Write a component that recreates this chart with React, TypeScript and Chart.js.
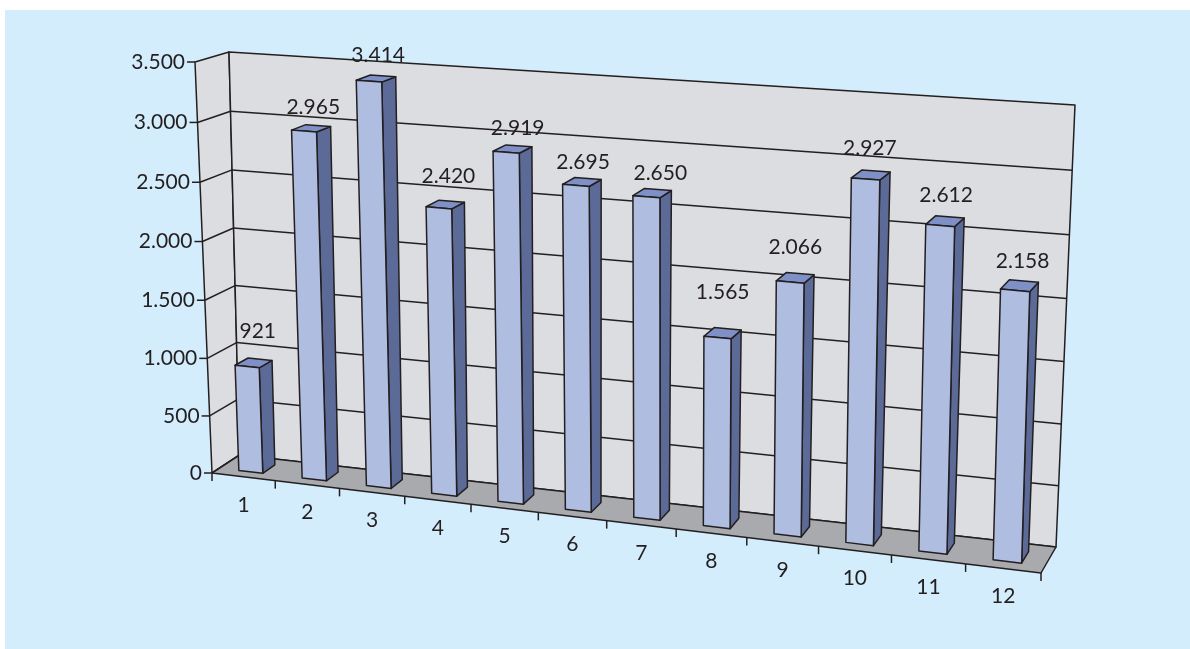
import React, { useEffect, useRef } from "react";
import { Chart, registerables } from "chart.js";

Chart.register(...registerables);

const categories = ["1", "2", "3", "4", "5", "6", "7", "8", "9", "10", "11", "12"];
const values = [921, 2965, 3414, 2420, 2919, 2695, 2650, 1565, 2066, 2927, 2612, 2158];
const axisMax = 3500;
const axisStep = 500;

type P = [number, number];

const INK = "#231f20";
const FONT = "21px Lato";
const LINE = 1.5;
// Corners of the 3D box on the page: bottom-left, bottom-right, top-right, top-left
const frontQuad: P[] = [[212, 473], [1041, 573], [1053.5, 123], [195, 62]];
const backQuad: P[] = [[239.5, 455], [1056, 547], [1075, 105], [229, 52]];
const barDepth: [number, number] = [0.27, 0.72];
// The source placed its value labels by hand, so each has its own offset from the bar top
const labelLift: P[] = [
  [4, 32], [2, 21], [2, 23], [3, 28], [5, 21], [1, 20],
  [8, 20], [0, 41], [0, 30], [-1, 27], [1, 26], [3, 24],
];

function homography(q: P[]) {
  const [[x0, y0], [x1, y1], [x2, y2], [x3, y3]] = q;
  const dx1 = x1 - x2, dx2 = x3 - x2, sx = x0 - x1 + x2 - x3;
  const dy1 = y1 - y2, dy2 = y3 - y2, sy = y0 - y1 + y2 - y3;
  const den = dx1 * dy2 - dx2 * dy1;
  const g = (sx * dy2 - dx2 * sy) / den;
  const h = (dx1 * sy - sx * dy1) / den;
  const a = x1 - x0 + g * x1, b = x3 - x0 + h * x3;
  const d = y1 - y0 + g * y1, e = y3 - y0 + h * y3;
  return (u: number, v: number): P => {
    const w = g * u + h * v + 1;
    return [(a * u + b * v + x0) / w, (d * u + e * v + y0) / w];
  };
}
const frontH = homography(frontQuad);
const backH = homography(backQuad);
const project = (u: number, v: number, w: number): P => {
  const f = frontH(u, v), b = backH(u, v);
  return [f[0] + (b[0] - f[0]) * w, f[1] + (b[1] - f[1]) * w];
};

function poly(ctx: CanvasRenderingContext2D, pts: P[], fill: string | null, lw = LINE) {
  ctx.beginPath();
  pts.forEach((p, i) => (i ? ctx.lineTo(p[0], p[1]) : ctx.moveTo(p[0], p[1])));
  ctx.closePath();
  if (fill) {
    ctx.fillStyle = fill;
    ctx.fill();
  }
  ctx.lineWidth = lw;
  ctx.strokeStyle = INK;
  ctx.lineJoin = "round";
  ctx.stroke();
}
function line(ctx: CanvasRenderingContext2D, a: P, b: P, lw = LINE) {
  ctx.beginPath();
  ctx.moveTo(a[0], a[1]);
  ctx.lineTo(b[0], b[1]);
  ctx.lineWidth = lw;
  ctx.strokeStyle = INK;
  ctx.stroke();
}

const perspectivePlugin = {
  id: "perspective",
  beforeDraw(chart: any) {
    const { ctx, width, height } = chart;
    ctx.save();
    ctx.fillStyle = "#ffffff";
    ctx.fillRect(0, 0, width, height);
    ctx.fillStyle = "#d4edfc";
    ctx.fillRect(5, 10, width - 5, height - 10);
    ctx.restore();
  },
  beforeDatasetsDraw(chart: any) {
    const { ctx, chartArea: area, scales } = chart;
    const yScale = scales.y, xScale = scales.x;
    const vOf = (val: number) => (area.bottom - yScale.getPixelForValue(val)) / area.height;
    ctx.save();
    // Walls and floor
    poly(ctx, [project(0, 0, 0), project(0, 0, 1), project(0, 1, 1), project(0, 1, 0)], "#dcdde0");
    poly(ctx, [project(0, 0, 1), project(1, 0, 1), project(1, 1, 1), project(0, 1, 1)], "#dcdde0");
    poly(ctx, [project(0, 0, 0), project(1, 0, 0), project(1, 0, 1), project(0, 0, 1)], "#a9aaae");
    // Value axis: grid lines, ticks, labels
    ctx.font = FONT;
    ctx.textBaseline = "middle";
    ctx.textAlign = "right";
    yScale.ticks.forEach((t: any) => {
      const v = vOf(t.value);
      const front = project(0, v, 0);
      if (t.value > 0 && t.value < axisMax) {
        line(ctx, front, project(0, v, 1));
        line(ctx, project(0, v, 1), project(1, v, 1));
      }
      line(ctx, [front[0] - 8, front[1]], front);
      ctx.fillStyle = INK;
      ctx.fillText(t.label, front[0] - 10, front[1]);
    });
    // Category axis: ticks between categories, labels below
    const n = categories.length;
    for (let i = 0; i <= n; i++) {
      const p = project(i / n, 0, 0);
      line(ctx, p, [p[0], p[1] + 8]);
    }
    ctx.textAlign = "center";
    categories.forEach((_, i) => {
      const px = xScale.getPixelForValue(i);
      const p = project((px - area.left) / area.width, 0, 0);
      ctx.fillStyle = INK;
      ctx.fillText(xScale.getLabelForValue(i), p[0], p[1] + 28);
    });
    ctx.restore();
  },
  afterDatasetsDraw(chart: any) {
    const { ctx, chartArea: area } = chart;
    const meta = chart.getDatasetMeta(0);
    const [w0, w1] = barDepth;
    ctx.save();
    meta.data.forEach((bar: any) => {
      const { x, y, base, width: bw } = bar.getProps(["x", "y", "base", "width"]);
      const u0 = (x - bw / 2 - area.left) / area.width;
      const u1 = (x + bw / 2 - area.left) / area.width;
      const vTop = (area.bottom - y) / area.height;
      const vBase = (area.bottom - base) / area.height;
      poly(ctx, [project(u1, vBase, w0), project(u1, vBase, w1), project(u1, vTop, w1), project(u1, vTop, w0)], "#5c6a97");
      poly(ctx, [project(u0, vTop, w0), project(u1, vTop, w0), project(u1, vTop, w1), project(u0, vTop, w1)], "#7e90c6");
      poly(ctx, [project(u0, vBase, w0), project(u1, vBase, w0), project(u1, vTop, w0), project(u0, vTop, w0)], "#aebde0");
    });
    ctx.font = FONT;
    ctx.textAlign = "center";
    ctx.textBaseline = "middle";
    ctx.fillStyle = INK;
    meta.data.forEach((bar: any, i: number) => {
      const { x, y } = bar.getProps(["x", "y"]);
      const p = project((x - area.left) / area.width, (area.bottom - y) / area.height, 0.5);
      ctx.fillText(values[i].toLocaleString("de-DE"), p[0] + labelLift[i][0], p[1] - labelLift[i][1]);
    });
    ctx.restore();
  },
};

export default function App() {
  const ref = useRef<HTMLCanvasElement>(null);
  useEffect(() => {
    const chart = new Chart(ref.current!, {
      type: "bar",
      data: {
        labels: categories,
        datasets: [{ data: values, backgroundColor: "transparent", borderWidth: 0, categoryPercentage: 1, barPercentage: 0.38 }],
      },
      options: {
        animation: false,
        responsive: false,
        devicePixelRatio: 1,
        layout: { padding: 0 },
        plugins: { legend: { display: false }, tooltip: { enabled: false } },
        scales: {
          x: { display: false, grid: { offset: true } },
          y: {
            display: false,
            min: 0,
            max: axisMax,
            ticks: { stepSize: axisStep, callback: (v: any) => Number(v).toLocaleString("de-DE") },
          },
        },
      },
      plugins: [perspectivePlugin],
    } as any);
    return () => chart.destroy();
  }, []);
  return (
    <div style={{ position: "fixed", left: 0, top: 0, width: 1190, height: 649 }}>
      <canvas ref={ref} width={1190} height={649} style={{ display: "block" }} />
    </div>
  );
}
